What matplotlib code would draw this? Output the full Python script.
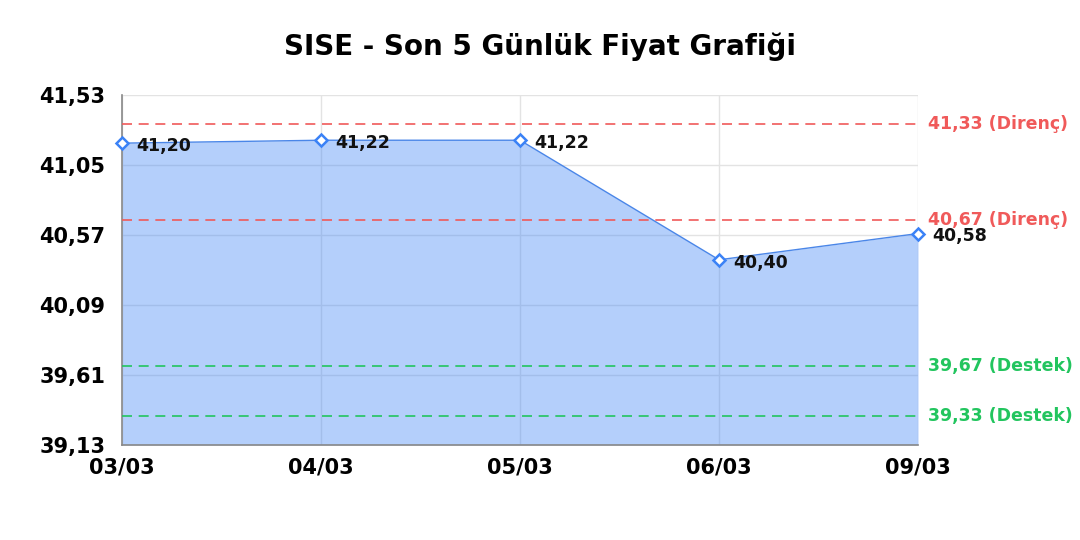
import matplotlib.pyplot as plt
import numpy as np

plt.rcParams['font.family'] = ['DejaVu Sans']

# data
dates = ["03/03", "04/03", "05/03", "06/03", "09/03"]
prices = [41.20, 41.22, 41.22, 40.40, 40.58]
resistance = [41.33, 40.67]
support = [39.67, 39.33]
yticks = [39.13, 39.61, 40.09, 40.57, 41.05, 41.53]

def tr(v):
    return f"{v:.2f}".replace(".", ",")

fig = plt.figure(figsize=(10.8, 5.4), dpi=100)
ax = fig.add_axes([0.113, 0.176, 0.737, 0.648])

x = np.arange(len(dates))
ax.fill_between(x, prices, yticks[0], color="#3b82f6", alpha=0.38, lw=0, zorder=2)
ax.plot(x, prices, color="#4a86e8", lw=1, zorder=3)
ax.plot(x, prices, ls="none", marker="D", ms=6, mfc="white", mec="#3b82f6",
        mew=1.8, zorder=5, clip_on=False)

for xi, p in zip(x, prices):
    ax.annotate(tr(p), (xi, p), xytext=(10, -2), textcoords="offset points",
                va="center", ha="left", fontsize=12.5, fontweight="bold",
                color="#111111", zorder=6, annotation_clip=False)

for lvl in resistance:
    ax.axhline(lvl, color="#f05a5a", ls=(0, (6, 4)), lw=1.2, zorder=4)
    ax.text(1.012, lvl, f"{tr(lvl)} (Direnç)", transform=ax.get_yaxis_transform(),
            va="center", ha="left", fontsize=12.5, fontweight="bold", color="#f05a5a")
for lvl in support:
    ax.axhline(lvl, color="#22c55e", ls=(0, (6, 4)), lw=1.2, zorder=4)
    ax.text(1.012, lvl, f"{tr(lvl)} (Destek)", transform=ax.get_yaxis_transform(),
            va="center", ha="left", fontsize=12.5, fontweight="bold", color="#22c55e")

ax.set_xlim(0, len(dates) - 1)
ax.set_ylim(yticks[0], yticks[-1])
ax.set_yticks(yticks)
ax.set_yticklabels([tr(v) for v in yticks], fontsize=15, fontweight="bold")
ax.set_xticks(x)
ax.set_xticklabels(dates, fontsize=15, fontweight="bold")
ax.tick_params(axis="y", length=0, pad=12)
ax.tick_params(axis="x", length=0, pad=9)

ax.grid(True, color="#e3e3e3", lw=1, zorder=0)
ax.set_axisbelow(True)
for s in ["top", "right"]:
    ax.spines[s].set_visible(False)
for s in ["left", "bottom"]:
    ax.spines[s].set_color("#888888")
    ax.spines[s].set_linewidth(1.2)

fig.suptitle("SISE - Son 5 Günlük Fiyat Grafiği", y=0.94, fontsize=20,
             fontweight="bold")

fig.savefig("out.png", dpi=100)
